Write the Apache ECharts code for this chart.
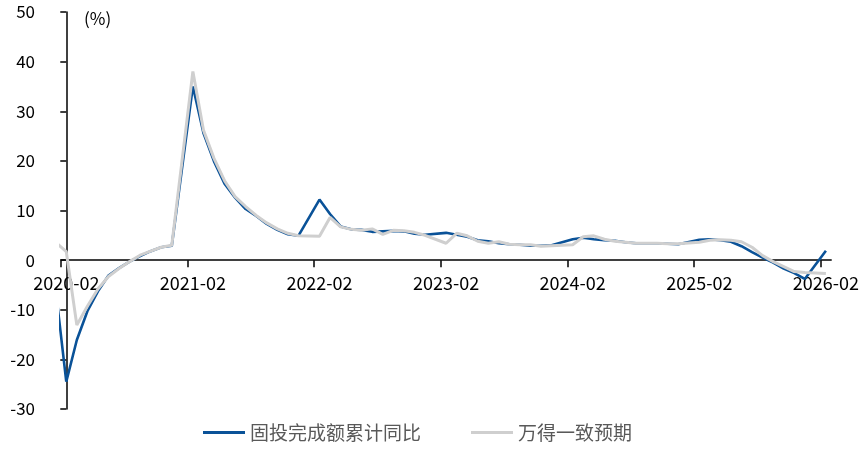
<!DOCTYPE html>
<html>
<head>
<meta charset="utf-8">
<script src="https://cdn.jsdelivr.net/npm/echarts@6/dist/echarts.min.js"></script>
<style>
  html, body { margin: 0; padding: 0; background: #fff; }
  #chart { width: 862px; height: 454px; }
</style>
</head>
<body>
<div id="chart"></div>
<script>
// 月份: 2020-01 ~ 2026-02 (2020-01 只是图左侧被裁掉的引入段)
const months = [];
for (let y = 2020; y <= 2026; y++) {
    for (let m = 1; m <= 12; m++) {
        if (y === 2026 && m > 2) break;
        months.push(y + '-' + String(m).padStart(2, '0'));
    }
}

// 横轴标注
const tickLabels = ['2020-02', '2021-02', '2022-02', '2023-02', '2024-02', '2025-02', '2026-02'];

// 固投完成额累计同比 (%), 1月无数据
const fai2020 = [-6.0, -24.5, -16.1, -10.3, -6.3, -3.1, -1.6, -0.3, 0.8, 1.8, 2.6, 2.9];
const fai2021 = [null, 35.0, 25.6, 19.9, 15.4, 12.6, 10.3, 8.9, 7.3, 6.1, 5.2, 4.9];
const fai2022 = [null, 12.2, 9.3, 6.8, 6.2, 6.1, 5.7, 5.8, 5.9, 5.8, 5.3, 5.1];
const fai2023 = [null, 5.5, 5.1, 4.7, 4.0, 3.8, 3.4, 3.2, 3.1, 2.9, 2.9, 3.0];
const fai2024 = [null, 4.2, 4.5, 4.2, 4.0, 3.9, 3.6, 3.4, 3.4, 3.4, 3.3, 3.2];
const fai2025 = [null, 4.1, 4.2, 4.0, 3.7, 2.8, 1.6, 0.5, -0.5, -1.7, -2.6, -3.8];
const fai2026 = [null, 1.9];

// 万得一致预期 (%)
const wind2020 = [3.6, 1.7, -13.1, -9.3, -5.8, -3.3, -1.7, -0.3, 1.0, 1.8, 2.6, 3.0];
const wind2021 = [null, 38.0, 26.2, 20.5, 16.0, 12.8, 10.8, 9.0, 7.5, 6.3, 5.4, 4.9];
const wind2022 = [null, 4.8, 8.6, 6.7, 6.2, 6.0, 6.3, 5.2, 6.0, 5.9, 5.6, 5.0];
const wind2023 = [null, 3.4, 5.4, 4.9, 3.8, 3.4, 3.7, 3.2, 3.1, 3.1, 2.8, 2.9];
const wind2024 = [null, 3.1, 4.7, 4.9, 4.2, 3.8, 3.6, 3.4, 3.4, 3.4, 3.3, 3.3];
const wind2025 = [null, 3.6, 4.0, 4.1, 4.0, 3.7, 2.6, 0.9, -0.3, -1.3, -2.3, -2.5];
const wind2026 = [null, -2.7];

const faiValues = [].concat(fai2020, fai2021, fai2022, fai2023, fai2024, fai2025, fai2026);
const windValues = [].concat(wind2020, wind2021, wind2022, wind2023, wind2024, wind2025, wind2026);

// 横轴用序号: 2020-02 = 0, 2020-01 = -1
const toPairs = vals => vals.map((v, k) => [k - 1, v]);
const labelPos = tickLabels.map(t => months.indexOf(t) - 1);
const tickPos = labelPos.map(p => p - 0.5);

const font = "'Noto Sans CJK SC', 'Noto Sans', sans-serif";

const chart = echarts.init(document.getElementById('chart'));
chart.setOption({
    animation: false,
    textStyle: { fontFamily: font },
    grid: { left: 61, right: 30, top: 12, bottom: 45, containLabel: false },
    legend: {
        left: 198,
        bottom: 7,
        icon: 'rect',
        itemWidth: 42,
        itemHeight: 3,
        itemGap: 50,
        textStyle: { color: '#595959', fontSize: 19, fontFamily: font },
        data: ['固投完成额累计同比', '万得一致预期']
    },
    graphic: [{
        type: 'text',
        left: 84,
        top: 10,
        style: { text: '(%)', fontSize: 17, fill: '#000', fontFamily: font }
    }],
    xAxis: {
        type: 'value',
        min: -0.5,
        max: months.length - 1.5,
        splitLine: { show: false },
        axisLine: { onZero: true, lineStyle: { color: '#000', width: 1.5 } },
        axisTick: { show: true, length: 7, customValues: tickPos, lineStyle: { color: '#000', width: 1.5 } },
        axisLabel: {
            customValues: labelPos,
            color: '#000',
            fontSize: 18,
            // 标签跟随零轴 (零轴离网格底部 149px)
            margin: 14 - 149,
            formatter: v => months[Math.round(v) + 1]
        }
    },
    yAxis: {
        type: 'value',
        min: -30,
        max: 50,
        interval: 10,
        splitLine: { show: false },
        axisLine: { show: true, lineStyle: { color: '#000', width: 1.5 } },
        axisTick: { show: true, length: 6, lineStyle: { color: '#000', width: 1.5 } },
        axisLabel: { color: '#000', fontSize: 17, margin: 26 }
    },
    series: [{
        name: '固投完成额累计同比',
        type: 'line',
        data: toPairs(faiValues),
        symbol: 'none',
        connectNulls: true,
        lineStyle: { color: '#0A5298', width: 2.6 },
        itemStyle: { color: '#0A5298' }
    }, {
        name: '万得一致预期',
        type: 'line',
        data: toPairs(windValues),
        symbol: 'none',
        connectNulls: true,
        lineStyle: { color: '#CFCFCF', width: 3 },
        itemStyle: { color: '#CFCFCF' }
    }]
});
</script>
</body>
</html>
